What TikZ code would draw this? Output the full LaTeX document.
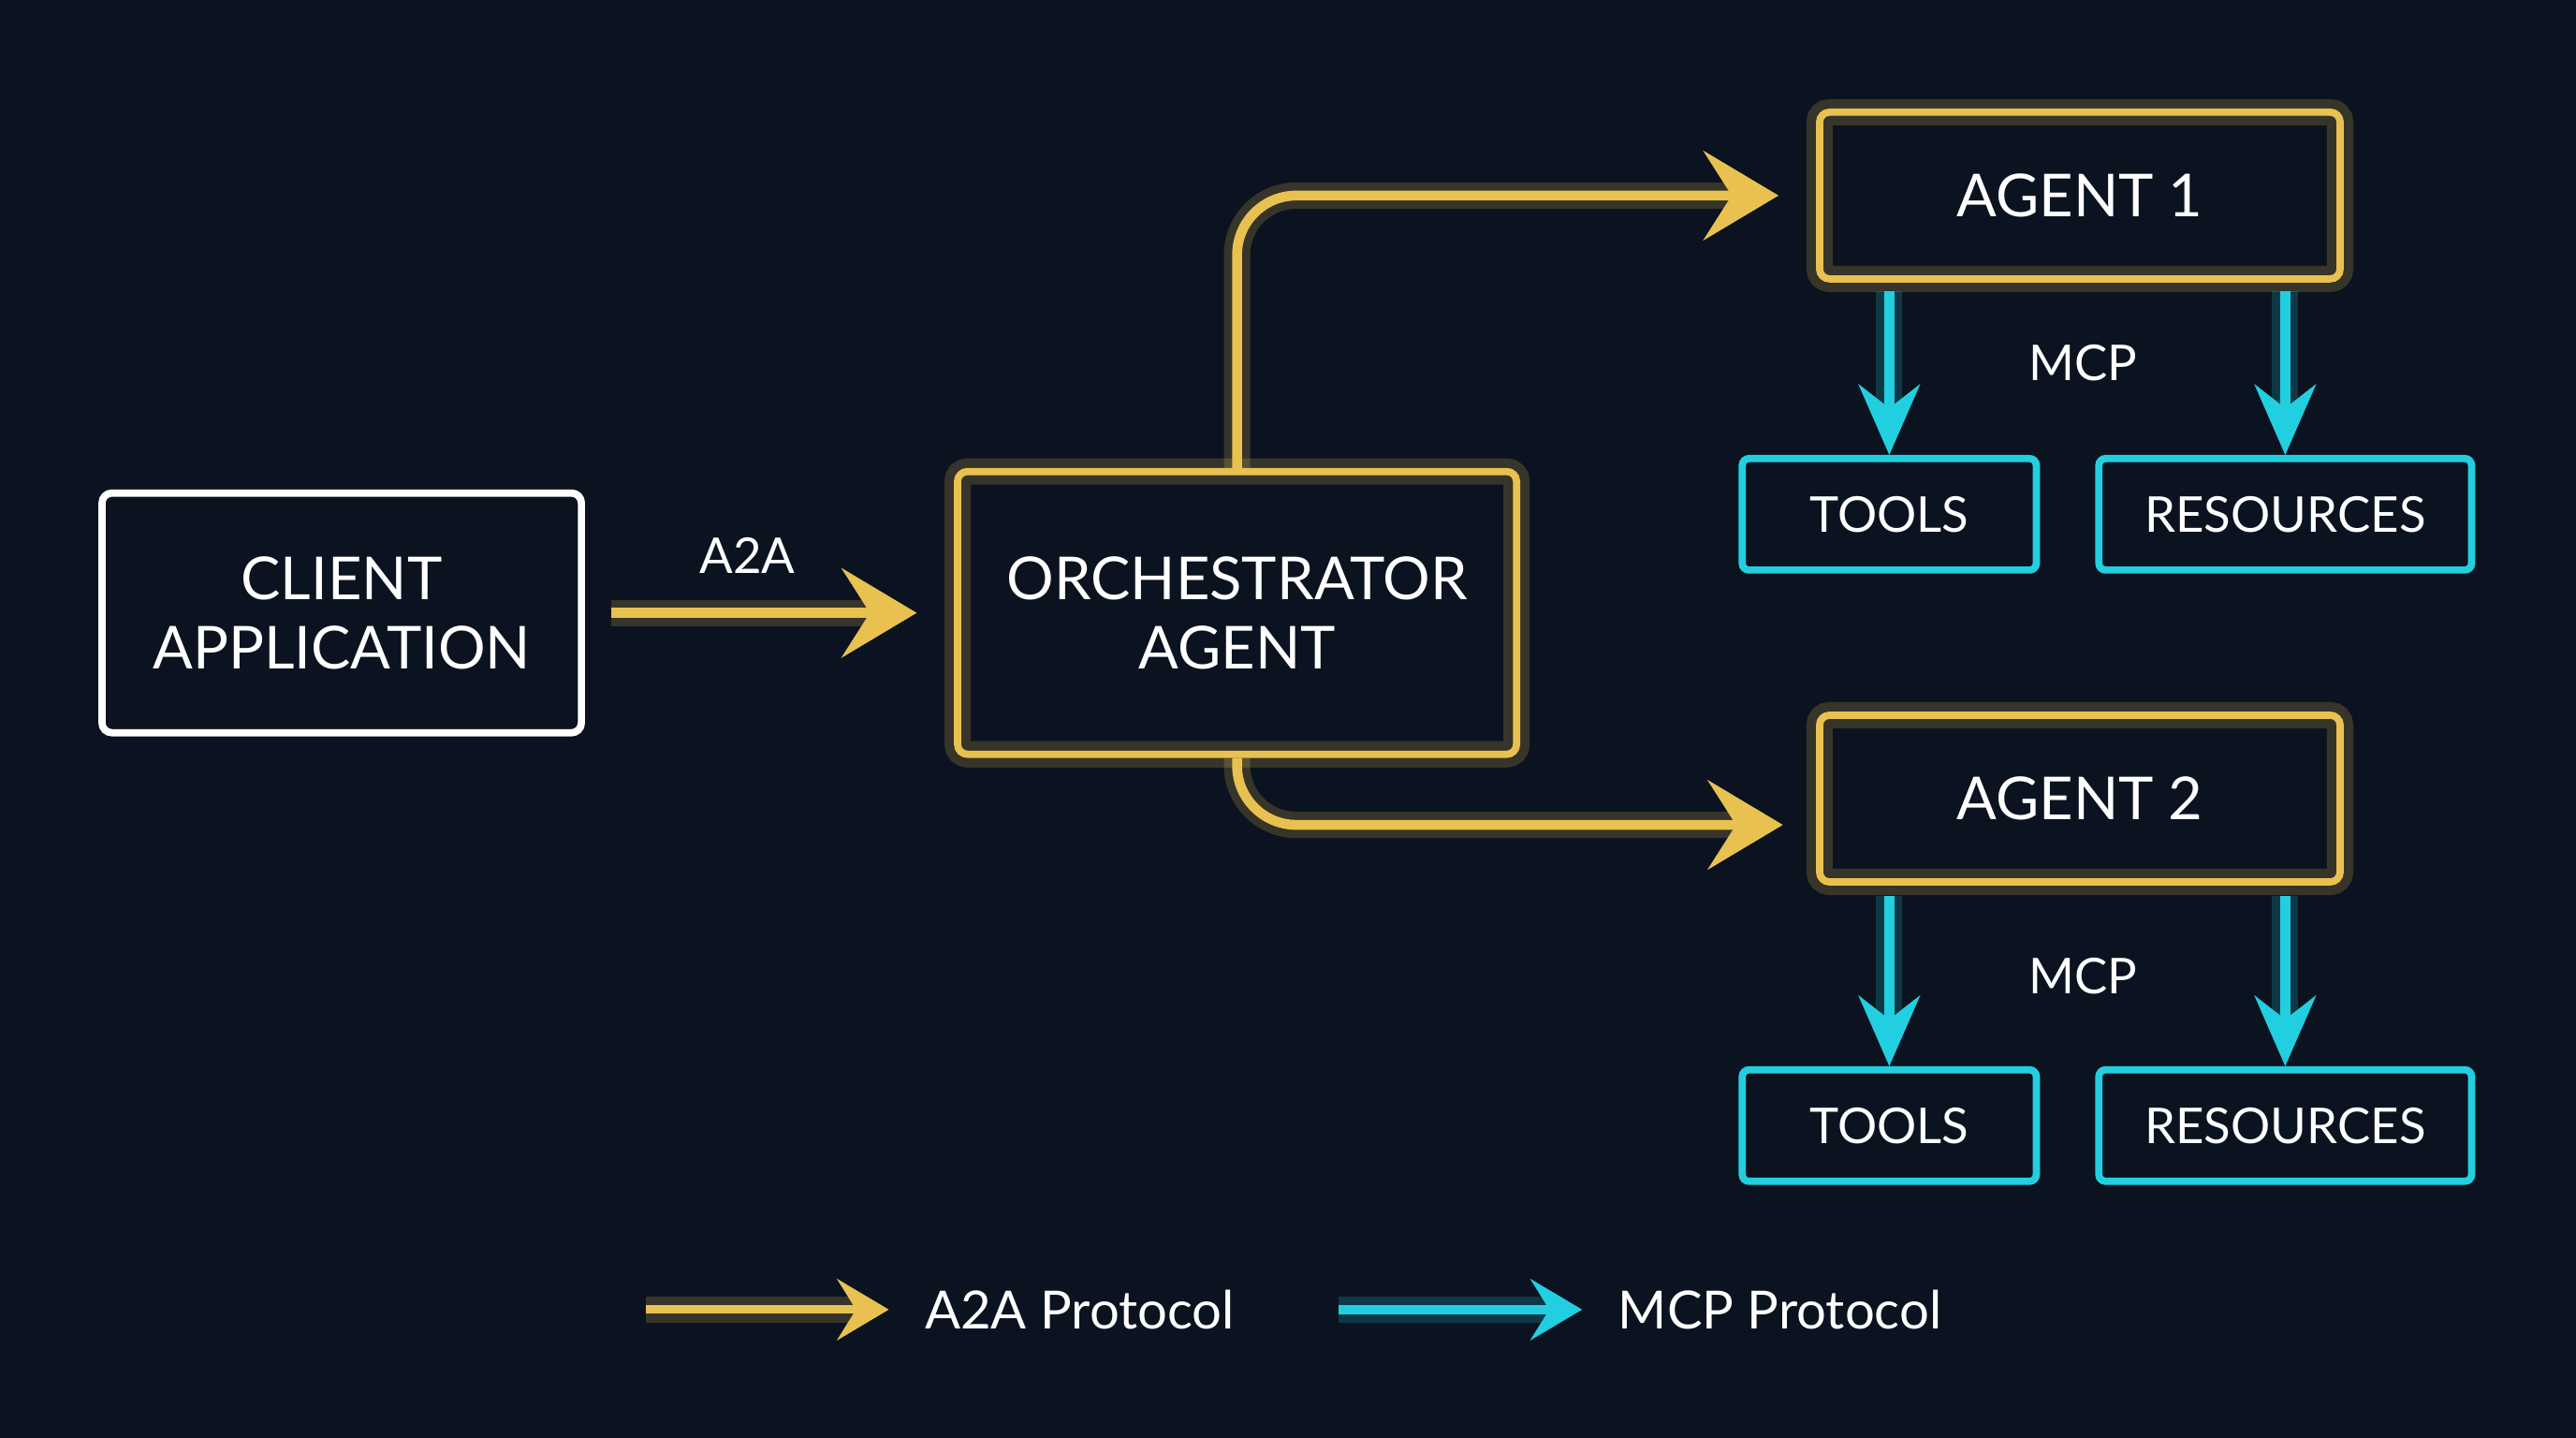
\documentclass[tikz,border=0pt]{standalone}
\usepackage{fontspec}
\setmainfont{Lato}
\usetikzlibrary{arrows.meta}
\definecolor{bg}{HTML}{0B1320}
\definecolor{gold}{HTML}{E8C150}
\definecolor{cyan}{HTML}{22CFE0}
\tikzset{
  box/.style={draw, line width=2.2pt, rounded corners=3pt, minimum width=#1, minimum height=1.78cm, align=center, text=white, font=\fontsize{18}{21}\selectfont},
  small/.style={draw=cyan, line width=2.2pt, rounded corners=2pt, minimum height=1.19cm, text=white, font=\fontsize{15}{18}\selectfont},
  goldglow/.style={preaction={draw=gold, line width=8pt, opacity=0.2}},
  cyanglow/.style={preaction={draw=cyan, line width=8pt, opacity=0.2}},
  a2a/.style={draw=gold, line width=3pt, goldglow, -{Stealth[length=0.8cm, width=0.95cm, inset=0.3cm]}},
  mcp/.style={draw=cyan, line width=3pt, cyanglow, -{Stealth[length=0.75cm, width=0.65cm, inset=0.25cm]}},
  lbl/.style={text=white, font=\fontsize{15}{17}\selectfont},
}
\begin{document}
\begin{tikzpicture}[x=0.01755cm, y=-0.01755cm]
\fill[bg] (0,0) rectangle (1568,875);
\useasboundingbox (0,0) rectangle (1568,875);

% main boxes
\node[box=5.12cm, draw=white, minimum height=2.56cm] (client) at (208,373) {CLIENT\\APPLICATION};
\node[box=5.97cm, draw=gold, goldglow, minimum height=3.02cm] (orch) at (753,373) {ORCHESTRATOR\\AGENT};
\node[box=5.56cm, draw=gold, goldglow] (agentA) at (1266,119) {AGENT 1};
\node[box=5.56cm, draw=gold, goldglow] (agentB) at (1266,486) {AGENT 2};

% tool and resource boxes
\node[small, minimum width=3.14cm] (toolsA) at (1150,313) {TOOLS};
\node[small, minimum width=3.98cm] (resA) at (1391,313) {RESOURCES};
\node[small, minimum width=3.14cm] (toolsB) at (1150,685) {TOOLS};
\node[small, minimum width=3.98cm] (resB) at (1391,685) {RESOURCES};

% A2A links
\coordinate (a2aS) at (372,373);
\coordinate (a2aE) at (558,373);
\draw[a2a] (a2aS) -- (a2aE);
\node[lbl] (a2aL) at (455,338) {A2A};
\draw[a2a, rounded corners=18pt, shorten >=0.4cm] (orch.north) |- (agentA.west);
\draw[a2a, rounded corners=18pt, shorten >=0.4cm] (orch.south) |- (1108,502);

% MCP links
\draw[mcp] (1150,177) -- (toolsA.north);
\draw[mcp] (1391,177) -- (resA.north);
\node[lbl] (mcpA) at (1268,221) {MCP};
\draw[mcp] (1150,545) -- (toolsB.north);
\draw[mcp] (1391,545) -- (resB.north);
\node[lbl] (mcpB) at (1268,594) {MCP};

% legend
\coordinate (legA) at (393,797);
\coordinate (legAe) at (541,797);
\coordinate (legB) at (815,797);
\coordinate (legBe) at (963,797);
\node[lbl, anchor=west, font=\fontsize{16}{19}\selectfont] (legAt) at (556,797) {A2A Protocol};
\node[lbl, anchor=west, font=\fontsize{16}{19}\selectfont] (legBt) at (978,797) {MCP Protocol};
\draw[a2a, line width=2.5pt, -{Stealth[length=0.55cm, width=0.65cm, inset=0.2cm]}] (legA) -- (legAe);
\draw[mcp, -{Stealth[length=0.55cm, width=0.65cm, inset=0.2cm]}] (legB) -- (legBe);
\end{tikzpicture}
\end{document}
